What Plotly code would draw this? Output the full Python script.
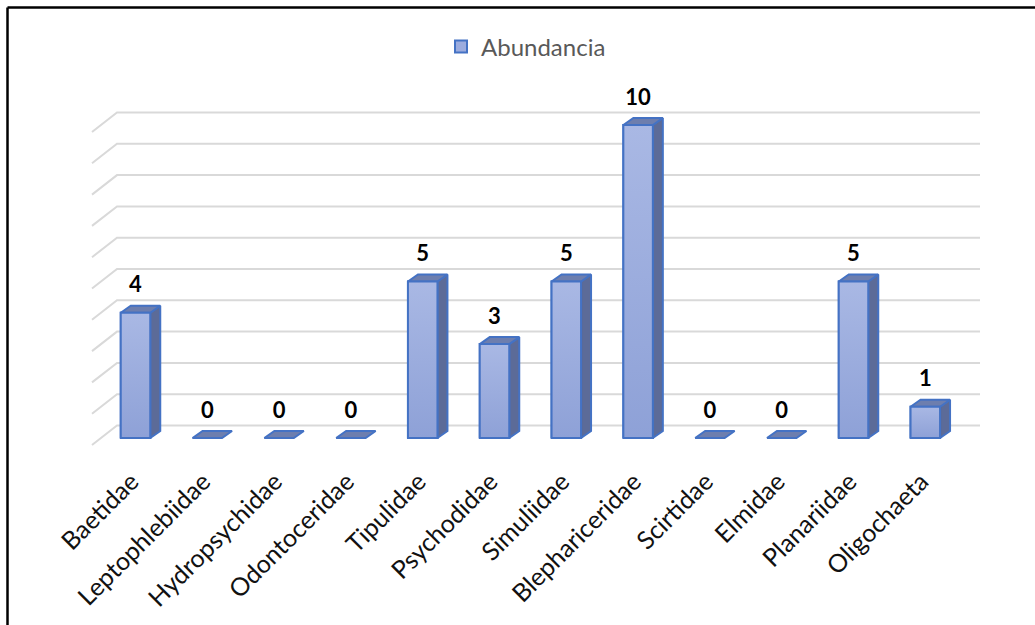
import plotly.graph_objects as go

# Abundance of macroinvertebrate families
familias = ["Baetidae", "Leptophlebiidae", "Hydropsychidae", "Odontoceridae",
            "Tipulidae", "Psychodidae", "Simuliidae", "Blephariceridae",
            "Scirtidae", "Elmidae", "Planariidae", "Oligochaeta"]
abundancia = [4, 0, 0, 0, 5, 3, 5, 10, 0, 0, 5, 1]
niveles = list(range(0, 11))   # value levels of the back-wall gridlines

# ---- page geometry (pixels) ----
W, H = 1035, 625
L, R, T, B = 60, 1000, 80, 455          # plot area
X0_PX, X_STEP = 135.5, 71.8             # centre of first category, px per category
Y0_PX, Y_STEP = 438.0, 31.3             # base of bar fronts, px per unit


def px_x(p):
    return (p - X0_PX) / X_STEP


def px_y(p):
    return (Y0_PX - p) / Y_STEP


def paper_x(p):
    return (p - L) / (R - L)


def paper_y(p):
    return (B - p) / (B - T)


BAR_W = 29.5 / X_STEP        # front face width
DX = 10 / X_STEP             # depth offset of bar side/top
DY = 7 / Y_STEP

FRONT_TOP = "#a9b8e4"
FRONT_BOT = "#8ea1d7"
SIDE = "#5c6b98"
TOP = "#6d7eae"
EDGE = "#4472c4"
GRID = "#d9d9d9"
FONT = "Lato"

idx = list(range(len(familias)))
fig = go.Figure()

# Series (front faces) - also provides the legend entry
fig.add_trace(go.Bar(
    x=idx, y=abundancia, width=BAR_W, name="Abundancia",
    marker=dict(color="#9cacde", line=dict(color=EDGE, width=2)),
    showlegend=True, hoverinfo="skip",
))

# Side faces
sx, sy = [], []
for i, v in zip(idx, abundancia):
    if v <= 0:
        continue
    xr = i + BAR_W / 2
    sx += [xr, xr + DX, xr + DX, xr, xr, None]
    sy += [0, DY, v + DY, v, 0, None]
fig.add_trace(go.Scatter(x=sx, y=sy, mode="lines", fill="toself",
                         fillcolor=SIDE, line=dict(color=EDGE, width=2),
                         showlegend=False, hoverinfo="skip"))

# Top faces
tx, ty = [], []
for i, v in zip(idx, abundancia):
    xl, xr = i - BAR_W / 2, i + BAR_W / 2
    tx += [xl, xr, xr + DX, xl + DX, xl, None]
    ty += [v, v, v + DY, v + DY, v, None]
fig.add_trace(go.Scatter(x=tx, y=ty, mode="lines", fill="toself",
                         fillcolor=TOP, line=dict(color=EDGE, width=2),
                         showlegend=False, hoverinfo="skip"))

# Gradient front faces
for i, v in zip(idx, abundancia):
    if v <= 0:
        continue
    xl, xr = i - BAR_W / 2, i + BAR_W / 2
    fig.add_trace(go.Scatter(
        x=[xl, xr, xr, xl, xl], y=[0, 0, v, v, 0], mode="lines", fill="toself",
        fillgradient=dict(type="vertical",
                          colorscale=[[0, FRONT_BOT], [1, FRONT_TOP]]),
        line=dict(color=EDGE, width=2), showlegend=False, hoverinfo="skip"))

# Value labels
fig.add_trace(go.Scatter(
    x=idx, y=[v + 0.83 for v in abundancia], mode="text",
    text=[str(v) for v in abundancia], textposition="middle center",
    textfont=dict(family=FONT, size=22, color="#000000", weight="bold"),
    showlegend=False, hoverinfo="skip"))

# Perspective gridlines (floor edge + back wall)
shapes = []
gx_front, gx_back, gx_right = px_x(92), px_x(117), px_x(980)
g_front_dy, g_back_dy = -7 / Y_STEP, 12.5 / Y_STEP
for v in niveles:
    path = (f"M{gx_front},{v + g_front_dy} L{gx_back},{v + g_back_dy} "
            f"L{gx_right},{v + g_back_dy}")
    shapes.append(dict(type="path", path=path, xref="x", yref="y",
                       line=dict(color=GRID, width=2), layer="below"))

# Outer frame
shapes.append(dict(type="line", xref="paper", yref="paper",
                   x0=paper_x(7.5), x1=paper_x(W), y0=paper_y(7.5), y1=paper_y(7.5),
                   line=dict(color="#000000", width=2.5)))
shapes.append(dict(type="line", xref="paper", yref="paper",
                   x0=paper_x(7.5), x1=paper_x(7.5), y0=paper_y(7.5), y1=paper_y(H),
                   line=dict(color="#000000", width=2.5)))

fig.update_layout(
    width=W, height=H,
    margin=dict(l=L, r=W - R, t=T, b=H - B, autoexpand=False),
    paper_bgcolor="white", plot_bgcolor="white",
    shapes=shapes,
    showlegend=True,
    legend=dict(orientation="h", x=paper_x(526), y=paper_y(47),
                xanchor="center", yanchor="middle",
                font=dict(family=FONT, size=24, color="#595959"),
                bgcolor="rgba(0,0,0,0)"),
    xaxis=dict(range=[px_x(L), px_x(R)], tickmode="array", tickvals=idx,
               ticktext=familias, tickangle=-45, showgrid=False,
               zeroline=False, showline=False, ticks="",
               ticklabelstandoff=6, ticklabelshift=-4,
               tickfont=dict(family=FONT, size=25, color="#111111"),
               fixedrange=True),
    yaxis=dict(range=[px_y(B), px_y(T)], showgrid=False, zeroline=False,
               showline=False, showticklabels=False, ticks="",
               fixedrange=True),
)

fig.write_html("out.html")
